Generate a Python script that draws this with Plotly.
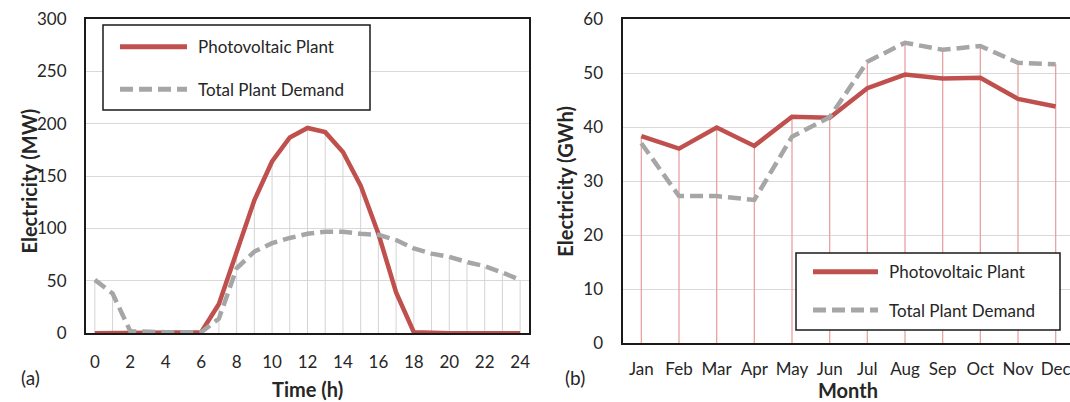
import plotly.graph_objects as go

# ---------------- data ----------------
hours = list(range(25))
pv_hourly = [0, 0, 0, 0, 0, 0, 1, 28, 79, 127, 164, 187, 196, 192, 173, 141, 95, 39, 1,
             0, 0, 0, 0, 0, 0]
demand_hourly = [51, 38, 2, 1, 1, 1, 1, 14, 62, 78, 86, 91, 95, 97, 97, 95, 94, 89, 81,
                 76, 73, 68, 64, 58, 51]

months = ["Jan", "Feb", "Mar", "Apr", "May", "Jun", "Jul", "Aug", "Sep", "Oct", "Nov", "Dec"]
pv_monthly = [38.3, 36.0, 39.9, 36.5, 41.9, 41.7, 47.2, 49.7, 49.0, 49.1, 45.2, 43.8]
demand_monthly = [37.0, 27.2, 27.2, 26.5, 38.2, 41.8, 52.1, 55.6, 54.3, 55.0, 51.9, 51.6]

left_yticks = [0, 50, 100, 150, 200, 250, 300]
left_xticks = list(range(0, 25, 2))
right_yticks = [0, 10, 20, 30, 40, 50, 60]

series_names = ["Photovoltaic Plant", "Total Plant Demand"]

# ---------------- styles ----------------
W, H = 1070, 402
RED = "#C0504D"
GRAY = "#A6A6A6"
GRID = "#D9D9D9"
DROP_L = "#D4D4D4"
DROP_R = "#E8A3A1"
FONT = "Lato"
TXT = "#262626"


def px(x):
    return x / W


def py(y):
    return 1 - y / H


def drops(xs, a, b):
    dx, dy = [], []
    for x, u, v in zip(xs, a, b):
        dx += [x, x, None]
        dy += [0, max(u, v), None]
    return dx, dy


fig = go.Figure()

# left chart
dx, dy = drops(hours, pv_hourly, demand_hourly)
fig.add_trace(go.Scatter(x=dx, y=dy, mode="lines", line=dict(color=DROP_L, width=1),
                         xaxis="x", yaxis="y", showlegend=False, hoverinfo="skip"))
fig.add_trace(go.Scatter(x=hours, y=pv_hourly, mode="lines", name=series_names[0],
                         line=dict(color=RED, width=4.5), xaxis="x", yaxis="y", showlegend=False))
fig.add_trace(go.Scatter(x=hours, y=demand_hourly, mode="lines", name=series_names[1],
                         line=dict(color=GRAY, width=4.5, dash="13px,6px"),
                         xaxis="x", yaxis="y", showlegend=False))

# right chart
dx, dy = drops(months, pv_monthly, demand_monthly)
fig.add_trace(go.Scatter(x=dx, y=dy, mode="lines", line=dict(color=DROP_R, width=1.3),
                         xaxis="x2", yaxis="y2", showlegend=False, hoverinfo="skip"))
fig.add_trace(go.Scatter(x=months, y=pv_monthly, mode="lines", name=series_names[0],
                         line=dict(color=RED, width=4.5), xaxis="x2", yaxis="y2", showlegend=False))
fig.add_trace(go.Scatter(x=months, y=demand_monthly, mode="lines", name=series_names[1],
                         line=dict(color=GRAY, width=4.5, dash="13px,6px"),
                         xaxis="x2", yaxis="y2", showlegend=False))

tickfont = dict(family=FONT, size=17, color=TXT)
axcommon = dict(showline=True, linecolor="#1a1a1a", linewidth=2, ticks="",
                tickfont=tickfont, zeroline=False, fixedrange=True, automargin=False)

right_end = 11.5 - (1074.5 - 1070) / 37.64

fig.update_layout(
    width=W, height=H,
    margin=dict(l=0, r=0, t=0, b=0, pad=0),
    paper_bgcolor="white", plot_bgcolor="white",
    showlegend=False,
    xaxis=dict(domain=[px(86), px(529)], range=[-0.5, 24.5], tickvals=left_xticks,
               showgrid=False, mirror=True, anchor="y", ticklabelstandoff=12, **axcommon),
    yaxis=dict(domain=[py(333.3), py(19)], range=[0, 300], tickvals=left_yticks,
               showgrid=True, gridcolor=GRID, gridwidth=1, mirror=True, anchor="x",
               ticklabelstandoff=14, **axcommon),
    xaxis2=dict(domain=[px(622.5), 1.0], range=[-0.5, right_end], type="category",
                showgrid=False, mirror=True, anchor="y2", ticklabelstandoff=10, **axcommon),
    yaxis2=dict(domain=[py(343), py(19)], range=[0, 60], tickvals=right_yticks,
                showgrid=True, gridcolor=GRID, gridwidth=1, mirror=False, anchor="x2",
                ticklabelstandoff=14, **axcommon),
)

shapes = []
annotations = []


def legend(x0, y0, x1, y1, lx0, lx1, tx, r1, r2):
    shapes.append(dict(type="rect", xref="paper", yref="paper", x0=px(x0), x1=px(x1),
                       y0=py(y1), y1=py(y0), line=dict(color="#1a1a1a", width=1.5),
                       fillcolor="white", layer="above"))
    shapes.append(dict(type="line", xref="paper", yref="paper", x0=px(lx0), x1=px(lx1),
                       y0=py(r1), y1=py(r1), line=dict(color=RED, width=5), layer="above"))
    shapes.append(dict(type="line", xref="paper", yref="paper", x0=px(lx0), x1=px(lx1),
                       y0=py(r2), y1=py(r2), line=dict(color=GRAY, width=5, dash="13px,6px"),
                       layer="above"))
    for name, ry in zip(series_names, [r1, r2]):
        annotations.append(dict(text=name, xref="paper", yref="paper", x=px(tx), y=py(ry),
                                xanchor="left", yanchor="middle", showarrow=False,
                                font=dict(family=FONT, size=17, color=TXT)))


legend(103, 25, 370, 110, 120, 187, 196, 46.7, 89.3)
legend(796, 253, 1060, 330, 813, 878, 887, 271.7, 310)

titlefont = dict(family=FONT, size=20, color=TXT, weight="bold")
annotations += [
    dict(text="<b>Electricity (MW)</b>", xref="paper", yref="paper", x=px(28), y=py(181.5),
         textangle=-90, showarrow=False, xanchor="center", yanchor="middle", font=titlefont),
    dict(text="<b>Electricity (GWh)</b>", xref="paper", yref="paper", x=px(565), y=py(181.7),
         textangle=-90, showarrow=False, xanchor="center", yanchor="middle", font=titlefont),
    dict(text="<b>Time (h)</b>", xref="paper", yref="paper", x=px(307), y=py(389),
         showarrow=False, xanchor="center", yanchor="middle", font=titlefont),
    dict(text="<b>Month</b>", xref="paper", yref="paper", x=px(848), y=py(390),
         showarrow=False, xanchor="center", yanchor="middle", font=titlefont),
    dict(text="(a)", xref="paper", yref="paper", x=px(30), y=py(377),
         showarrow=False, xanchor="center", yanchor="middle",
         font=dict(family=FONT, size=19, color=TXT)),
    dict(text="(b)", xref="paper", yref="paper", x=px(575), y=py(377),
         showarrow=False, xanchor="center", yanchor="middle",
         font=dict(family=FONT, size=19, color=TXT)),
]

fig.update_layout(shapes=shapes, annotations=annotations)

fig.write_html("out.html", config={"displayModeBar": False, "staticPlot": True})
